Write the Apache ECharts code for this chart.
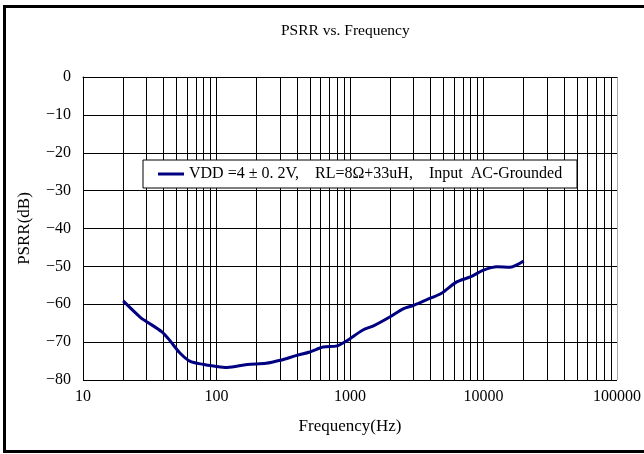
<!DOCTYPE html>
<html>
<head>
<meta charset="utf-8">
<script src="https://cdn.jsdelivr.net/npm/echarts@6/dist/echarts.min.js"></script>
<style>html,body{margin:0;padding:0;background:#fff}#c{width:644px;height:454px}</style>
</head>
<body>
<div id="c"></div>
<script>
// Data
var freqHz = [20, 27, 30, 39, 45, 53, 63, 80, 95, 120, 170, 235, 300, 400, 500, 630, 800, 940, 1250, 1500, 2000, 2500, 3000, 4000, 4850, 6300, 7950, 10000, 12600, 15800, 20000];
var psrrDb = [-59.1, -63.5, -64.6, -67.3, -69.7, -72.8, -75.0, -75.9, -76.3, -76.7, -75.9, -75.6, -74.8, -73.5, -72.6, -71.3, -71.0, -69.7, -66.8, -65.7, -63.3, -61.2, -60.3, -58.4, -57.1, -54.1, -52.8, -51.0, -50.1, -50.2, -48.6];
var minorGridHz = [20,30,40,50,60,70,80,90,200,300,400,500,600,700,800,900,2000,3000,4000,5000,6000,7000,8000,9000,20000,30000,40000,50000,60000,70000,80000,90000];
var seriesName = 'VDD =4 ± 0. 2V,    RL=8Ω+33uH,    Input  AC-Grounded';
var titleText = 'PSRR vs. Frequency';
var xName = 'Frequency(Hz)';
var yName = 'PSRR(dB)';

var FONT = 'Liberation Serif';
var chart = echarts.init(document.getElementById('c'), null, {renderer: 'canvas'});
var pts = freqHz.map(function (f, i) { return [f, psrrDb[i]]; });
chart.setOption({
  animation: false,
  backgroundColor: '#fff',
  graphic: [{
    type: 'rect', silent: true, z: 100,
    shape: {x: 4.5, y: 6.5, width: 700, height: 445},
    style: {fill: 'none', stroke: '#000', lineWidth: 3}
  }],
  title: {
    text: titleText, left: 276, top: 18,
    textStyle: {fontFamily: FONT, fontSize: 15.5, fontWeight: 'normal', color: '#000'}
  },
  legend: {
    left: 143, top: 160, z: 10,
    padding: [6, 8, 6, 15],
    backgroundColor: '#fff', borderColor: '#000', borderWidth: 1, borderRadius: 0,
    itemWidth: 26, itemHeight: 3,
    textStyle: {fontFamily: FONT, fontSize: 16, color: '#000', lineHeight: 16, width: 380, overflow: 'truncate'},
    data: [{name: seriesName, icon: 'rect'}]
  },
  grid: {left: 83, right: 27, top: 77, bottom: 74, containLabel: false},
  xAxis: {
    type: 'log', logBase: 10, min: 10, max: 100000,
    name: xName, nameLocation: 'middle', nameGap: 38,
    nameTextStyle: {fontFamily: FONT, fontSize: 17, color: '#000'},
    axisLine: {lineStyle: {color: '#000', width: 1}},
    axisTick: {show: false},
    axisLabel: {fontFamily: FONT, fontSize: 16, color: '#000', margin: 9,
      formatter: function (v) { return String(Math.round(v)); }},
    splitLine: {show: true, lineStyle: {color: ['#000', '#000', '#000', '#000', '#aaa'], width: 1}}
  },
  yAxis: {
    type: 'value', min: -80, max: 0, interval: 10,
    name: yName, nameLocation: 'middle', nameGap: 50, nameRotate: 90,
    nameTextStyle: {fontFamily: FONT, fontSize: 17, color: '#000'},
    axisLine: {show: true, lineStyle: {color: '#000', width: 1}},
    axisTick: {show: false},
    axisLabel: {fontFamily: FONT, fontSize: 16, color: '#000', margin: 12,
      formatter: function (v) { return String(v).replace('-', '\u2212'); }},
    splitLine: {show: true, lineStyle: {color: ['#000','#000','#000','#000','#000','#000','#000','#000','#aaa'], width: 1}}
  },
  series: [{
    name: seriesName, type: 'line', data: pts, smooth: 0.3,
    symbol: 'none', z: 2,
    lineStyle: {color: '#000080', width: 3},
    itemStyle: {color: '#000080'},
    markLine: {
      silent: true, symbol: 'none', label: {show: false}, z: 1,
      lineStyle: {color: '#000', width: 1, type: 'solid'},
      emphasis: {disabled: true},
      data: minorGridHz.map(function (f) { return {xAxis: f}; })
    }
  }]
});
</script>
</body>
</html>
